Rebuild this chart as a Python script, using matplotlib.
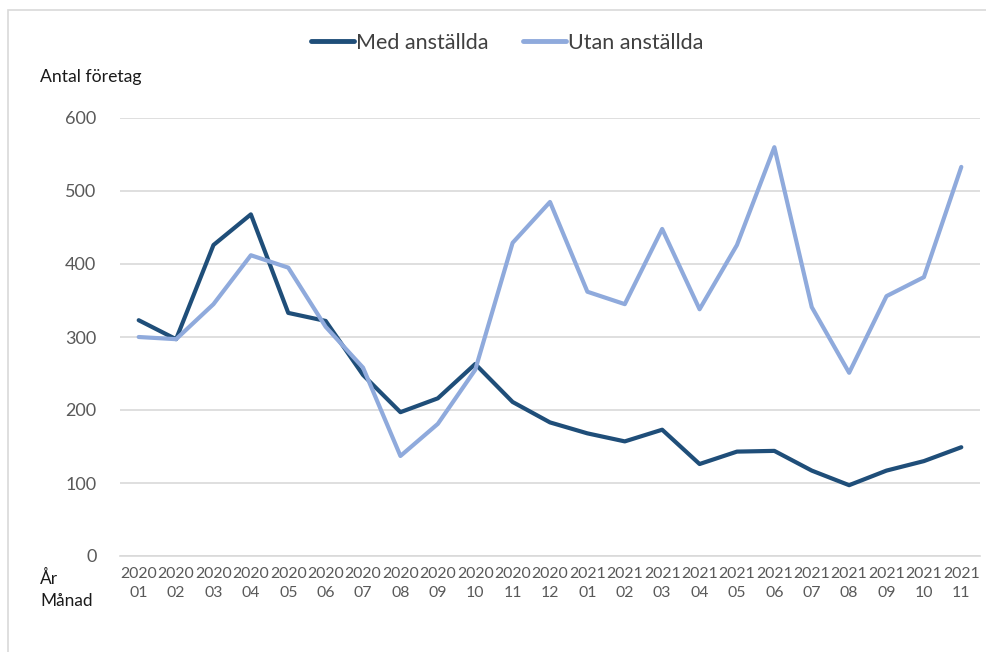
import matplotlib
matplotlib.use("Agg")
import matplotlib.pyplot as plt
from matplotlib.patches import Rectangle

plt.rcParams['font.family'] = ['Lato', 'DejaVu Sans']

years = ["2020"] * 12 + ["2021"] * 11
months = ["01", "02", "03", "04", "05", "06", "07", "08", "09", "10", "11", "12",
          "01", "02", "03", "04", "05", "06", "07", "08", "09", "10", "11"]

med_anstallda = [323, 297, 426, 468, 333, 322, 248, 197, 216, 263, 211, 183,
                 168, 157, 173, 126, 143, 144, 117, 97, 117, 130, 149]
utan_anstallda = [300, 297, 345, 412, 395, 314, 258, 137, 181, 255, 429, 485,
                  362, 345, 448, 338, 426, 560, 341, 251, 356, 382, 533]

yticks = [0, 100, 200, 300, 400, 500, 600]

W, H = 986, 652
fig = plt.figure(figsize=(W / 100, H / 100), dpi=100)
ax = fig.add_axes([120 / W, (H - 556) / H, (980 - 120) / W, (556 - 118) / H])

x = list(range(len(months)))
ax.plot(x, med_anstallda, color='#1F4E79', lw=3, label='Med anställda',
        solid_joinstyle='round', solid_capstyle='round')
ax.plot(x, utan_anstallda, color='#8FAADC', lw=3, label='Utan anställda',
        solid_joinstyle='round', solid_capstyle='round')

ax.set_xlim(-0.5, len(months) - 0.5)
ax.set_ylim(0, 600)
ax.set_yticks(yticks)
ax.set_yticklabels([str(v) for v in yticks], fontsize=13, color='#595959')
ax.set_xticks(x)
ax.set_xticklabels([f"{y}\n{m}" for y, m in zip(years, months)],
                   fontsize=11.4, color='#595959', linespacing=1.4)
ax.tick_params(axis='both', length=0)
ax.tick_params(axis='y', pad=17)
ax.tick_params(axis='x', pad=8)
ax.grid(axis='y', color='#D9D9D9', lw=1.2)
ax.set_axisbelow(True)
for side in ['top', 'right', 'left']:
    ax.spines[side].set_visible(False)
ax.spines['bottom'].set_color('#D9D9D9')
ax.spines['bottom'].set_linewidth(1.2)

fig.text(40 / W, 1 - 77 / H, "Antal företag", fontsize=12.7, color='#1a1a1a',
         ha='left', va='center')
fig.text(40 / W, 1 - 578 / H, "År", fontsize=12.4, color='#1a1a1a',
         ha='left', va='center')
fig.text(40 / W, 1 - 601 / H, "Månad", fontsize=12.4, color='#1a1a1a',
         ha='left', va='center')

leg = fig.legend(loc='center', bbox_to_anchor=(507 / W, 1 - 43 / H), ncol=2,
                 frameon=False, fontsize=15.5, handlelength=2.0, handletextpad=0.1,
                 columnspacing=1.6)
for t in leg.get_texts():
    t.set_color('#404040')
for l in leg.get_lines():
    l.set_linewidth(3.5)

fig.patches.append(Rectangle((8 / W, -0.1), 1.2, 1 - 10 / H + 0.1,
                             transform=fig.transFigure, fill=False,
                             edgecolor='#D9D9D9', lw=1.2))

fig.savefig("out.png", dpi=100)
